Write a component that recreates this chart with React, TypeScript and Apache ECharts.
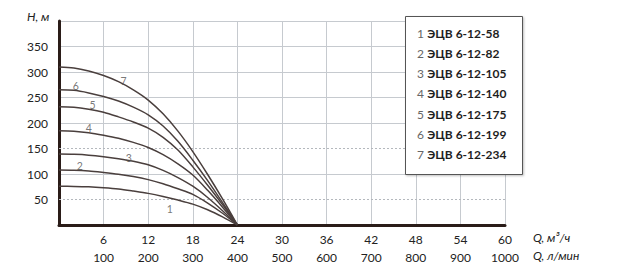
import React, { useEffect, useRef } from "react";
import * as echarts from "echarts";

const models = ["ЭЦВ 6-12-58", "ЭЦВ 6-12-82", "ЭЦВ 6-12-105", "ЭЦВ 6-12-140", "ЭЦВ 6-12-175", "ЭЦВ 6-12-199", "ЭЦВ 6-12-234"];
const flowPoints = [0, 2, 4, 6, 8, 10, 12, 14, 16, 18, 20, 22, 24];
const head1 = [76, 75.7, 74.8, 73, 70.5, 66.5, 62, 56, 49, 41, 30, 16, 0];
const head2 = [108, 107.5, 106, 103, 99.5, 95, 89, 81, 71, 60, 43, 23, 0];
const head3 = [139, 138.5, 137, 134, 130, 125, 118, 107, 93, 76, 54, 28, 0];
const head4 = [185, 184, 181, 176, 170, 162, 152, 138, 120, 98, 68, 35, 0];
const head5 = [232, 231, 227, 221, 212, 202, 190, 172, 147, 114, 78, 40, 0];
const head6 = [265, 264, 259, 252, 243, 231, 216, 194, 164, 127, 87, 44, 0];
const head7 = [310, 308, 302, 293, 281, 265, 245, 218, 184, 144, 99, 51, 0];
const heads = [head1, head2, head3, head4, head5, head6, head7];
const curveLabelQ = [14.9, 2.8, 9.4, 4.0, 4.5, 2.25, 8.7];
const curveLabelH = [32, 115, 131, 190, 235, 272, 283];
const xTicksM3h = [6, 12, 18, 24, 30, 36, 42, 48, 54, 60];
const xTicksLmin = [100, 200, 300, 400, 500, 600, 700, 800, 900, 1000];
const yTicks = [50, 100, 150, 200, 250, 300, 350];
const dottedLevels = [50, 150];

const FONT = "Lato, 'Noto Sans', sans-serif";
const CURVE = "#4a3f3d";
const AXIS = "#2a1c18";
const GRID = "#c6cacf";

export default function App() {
  const ref = useRef<HTMLDivElement>(null);
  useEffect(() => {
    if (!ref.current) return;
    const chart = echarts.init(ref.current, undefined, { renderer: "svg" });
    const lineSeries = heads.map((h, i) => ({
      type: "line",
      name: models[i],
      data: flowPoints.map((q, j) => [q, h[j]]),
      smooth: 0.3,
      showSymbol: false,
      symbol: "none",
      lineStyle: { color: CURVE, width: 1.5 },
      z: 3,
    }));
    const labelSeries = {
      type: "scatter",
      symbolSize: 0,
      data: curveLabelQ.map((q, i) => ({ value: [q, curveLabelH[i]], name: String(i + 1) })),
      label: {
        show: true,
        formatter: (p: any) => p.name,
        position: "inside",
        color: "#555",
        fontSize: 10.5,
        fontFamily: FONT,
      },
      markLine: {
        silent: true,
        symbol: "none",
        label: { show: false },
        lineStyle: { type: [2, 2], color: "#b4b8bd", width: 1 },
        data: dottedLevels.map((v) => ({ yAxis: v })),
        z: 1,
      },
      z: 4,
    };
    const legendTexts = models.map((m, i) => ({
      type: "text",
      left: 417,
      top: 27 + i * 20.3,
      style: {
        text: `{n|${i + 1}} {b|${m}}`,
        rich: {
          n: { fontSize: 12, fontFamily: FONT, fill: "#666", fontWeight: "normal" },
          b: { fontSize: 12, fontFamily: FONT, fill: "#1e1e1e", fontWeight: "bold" },
        },
      },
      z: 11,
    }));
    const ySplitColors = [0, 50, 100, 150, 200, 250, 300, 350, 400].map((v) =>
      dottedLevels.indexOf(v) >= 0 ? "rgba(0,0,0,0)" : GRID
    );
    chart.setOption({
      animation: false,
      grid: { left: 59, right: 113, top: 21, bottom: 53 },
      xAxis: {
        type: "value",
        min: 0,
        max: 60,
        interval: 6,
        axisLine: { show: true, lineStyle: { color: AXIS, width: 3 } },
        axisTick: { show: false },
        splitLine: { show: true, lineStyle: { color: GRID, width: 1 } },
        axisLabel: {
          margin: 5,
          lineHeight: 18,
          fontSize: 12,
          fontFamily: FONT,
          color: "#222",
          formatter: (v: number) => {
            const idx = xTicksM3h.indexOf(v);
            return idx < 0 ? "" : `${xTicksM3h[idx]}\n${xTicksLmin[idx]}`;
          },
        },
      },
      yAxis: {
        type: "value",
        min: 0,
        max: 400,
        interval: 50,
        axisLine: { show: true, lineStyle: { color: AXIS, width: 3 } },
        axisTick: { show: false },
        splitLine: { show: true, lineStyle: { color: ySplitColors, width: 1 } },
        axisLabel: {
          margin: 11,
          fontSize: 12,
          fontFamily: FONT,
          color: "#222",
          padding: [0, 0, 7, 0],
          formatter: (v: number) => (yTicks.indexOf(v) < 0 ? "" : String(v)),
        },
      },
      series: [...lineSeries, labelSeries],
      graphic: [
        {
          type: "text",
          left: 27,
          top: 10,
          style: { text: "H, м", fontSize: 12, fontStyle: "italic", fontFamily: FONT, fill: "#222" },
        },
        {
          type: "text",
          left: 533,
          top: 231,
          style: { text: "Q, м³/ч", fontSize: 12, fontStyle: "italic", fontFamily: FONT, fill: "#222" },
        },
        {
          type: "text",
          left: 533,
          top: 249,
          style: { text: "Q, л/мин", fontSize: 12, fontStyle: "italic", fontFamily: FONT, fill: "#222" },
        },
        {
          type: "rect",
          left: 405,
          top: 16,
          shape: { x: 0, y: 0, width: 117, height: 158 },
          style: { fill: "#fff", stroke: "#555", lineWidth: 1, shadowColor: "rgba(0,0,0,0.25)", shadowBlur: 2, shadowOffsetX: 1, shadowOffsetY: 1 },
          z: 10,
        },
        ...legendTexts,
      ],
    });
    return () => chart.dispose();
  }, []);
  return (
    <div
      ref={ref}
      style={{ position: "fixed", left: 0, top: 0, width: 618, height: 278, background: "#fff" }}
    />
  );
}
